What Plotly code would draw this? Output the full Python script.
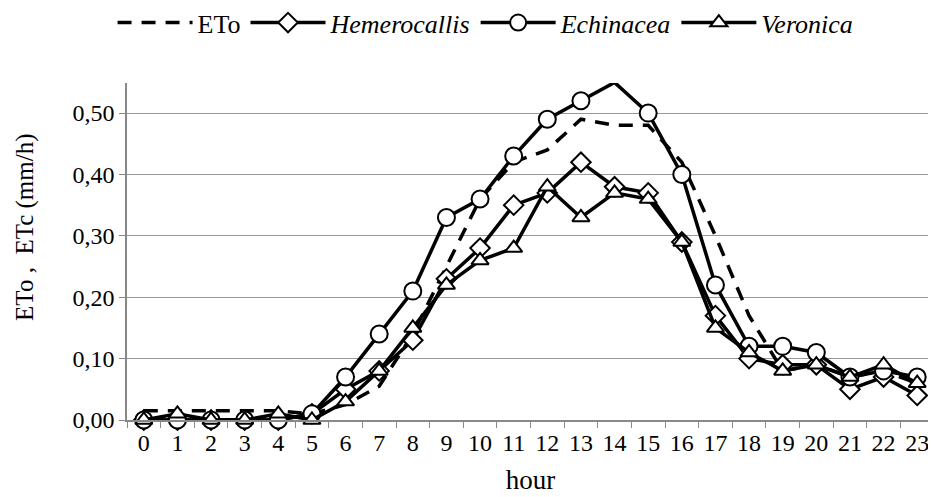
import plotly.graph_objects as go

hours = [str(h) for h in range(24)]
eto = [0.015, 0.015, 0.015, 0.015, 0.015, 0.01, 0.025, 0.055, 0.14, 0.25, 0.36, 0.42,
       0.44, 0.49, 0.48, 0.48, 0.42, 0.30, 0.17, 0.08, 0.09, 0.07, 0.08, 0.06]
hemerocallis = [0, 0, 0, 0, 0, 0.01, 0.05, 0.08, 0.13, 0.23, 0.28, 0.35,
                0.37, 0.42, 0.38, 0.37, 0.29, 0.17, 0.10, 0.09, 0.09, 0.05, 0.07, 0.04]
echinacea = [0, 0, 0, 0, 0, 0.01, 0.07, 0.14, 0.21, 0.33, 0.36, 0.43,
             0.49, 0.52, 0.55, 0.50, 0.40, 0.22, 0.12, 0.12, 0.11, 0.07, 0.08, 0.07]
veronica = [0, 0.01, 0, 0, 0.01, 0, 0.03, 0.08, 0.15, 0.22, 0.26, 0.28,
            0.38, 0.33, 0.37, 0.36, 0.29, 0.15, 0.11, 0.08, 0.09, 0.07, 0.09, 0.06]
y_tickvals = [0, 0.1, 0.2, 0.3, 0.4, 0.5]
y_ticktext = ["0,00", "0,10", "0,20", "0,30", "0,40", "0,50"]

FONT = "Liberation Serif"

fig = go.Figure()
fig.add_trace(go.Scatter(x=hours, y=eto, name="ETo", mode="lines",
                         line=dict(color="black", width=3.5, dash="14px,10px"),
                         cliponaxis=False))
marker_common = dict(color="white", line=dict(color="black", width=2))
fig.add_trace(go.Scatter(x=hours, y=hemerocallis, name="<i>Hemerocallis</i>", mode="lines+markers",
                         line=dict(color="black", width=3.5),
                         marker=dict(symbol="diamond", size=15, **marker_common),
                         cliponaxis=False))
fig.add_trace(go.Scatter(x=hours, y=echinacea, name="<i>Echinacea</i>", mode="lines+markers",
                         line=dict(color="black", width=3.5),
                         marker=dict(symbol="circle", size=17, **marker_common),
                         cliponaxis=False))
fig.add_trace(go.Scatter(x=hours, y=veronica, name="<i>Veronica</i>", mode="lines+markers",
                         line=dict(color="black", width=3.5),
                         marker=dict(symbol="triangle-up", size=15, **marker_common),
                         cliponaxis=False))

fig.update_layout(
    width=928, height=489,
    margin=dict(l=119, r=2, t=75, b=77, autoexpand=False),
    paper_bgcolor="white", plot_bgcolor="white",
    font=dict(family=FONT, size=24, color="black"),
    showlegend=True,
    legend=dict(orientation="h", xref="container", yref="container",
                x=0.5146, xanchor="center", y=0.97, yanchor="middle",
                font=dict(family=FONT, size=26, color="black"),
                itemwidth=75, tracegroupgap=0, bgcolor="rgba(0,0,0,0)"),
    xaxis=dict(type="category", range=[-0.5, 23.5], tickson="boundaries",
               ticks="outside", ticklen=6, tickcolor="#888", showgrid=False,
               showline=True, linecolor="#888", linewidth=1.5, automargin=False,
               tickfont=dict(family=FONT, size=24),
               title=dict(text="hour", font=dict(family=FONT, size=27), standoff=16)),
    yaxis=dict(range=[0, 0.549], tickvals=y_tickvals, ticktext=y_ticktext,
               ticks="outside", ticklen=6, tickcolor="#888", automargin=False,
               showgrid=True, gridcolor="#999", gridwidth=1.3,
               showline=True, linecolor="#888", linewidth=1.5, zeroline=False,
               tickfont=dict(family=FONT, size=24)),
)
fig.add_annotation(text="ETo ,  ETc (mm/h)", textangle=-90, xref="paper", yref="paper",
                   x=0, y=0.57, xanchor="center", yanchor="middle", xshift=-102,
                   showarrow=False, font=dict(family=FONT, size=25, color="black"))

fig.write_html("out.html")
